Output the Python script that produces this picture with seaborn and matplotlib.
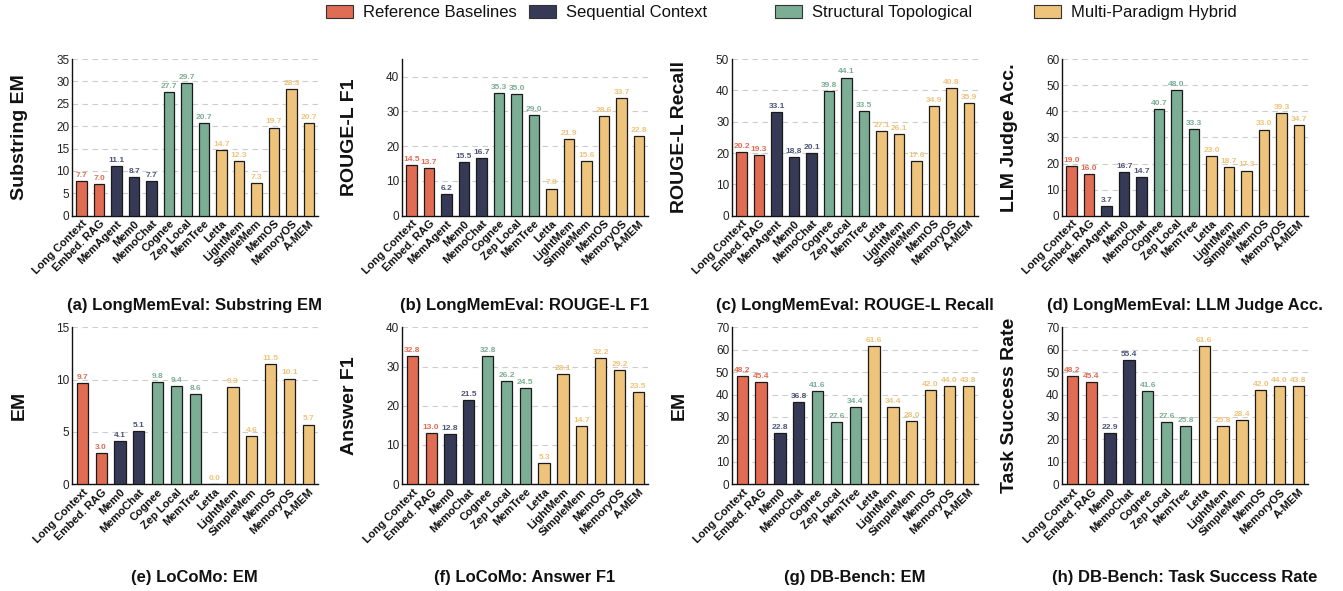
import pandas as pd
import matplotlib
matplotlib.use("Agg")
import matplotlib.pyplot as plt
from matplotlib.patches import Patch
import seaborn as sns

# Method names and their paradigm group
methods_lme = ["Long Context", "Embed. RAG", "MemAgent", "Mem0", "MemoChat", "Cognee", "Zep Local",
               "MemTree", "Letta", "LightMem", "SimpleMem", "MemOS", "MemoryOS", "A-MEM"]
groups_lme = ["Reference Baselines"] * 2 + ["Sequential Context"] * 3 + ["Structural Topological"] * 3 + \
             ["Multi-Paradigm Hybrid"] * 6
methods_other = [m for m in methods_lme if m != "MemAgent"]
groups_other = ["Reference Baselines"] * 2 + ["Sequential Context"] * 2 + ["Structural Topological"] * 3 + \
               ["Multi-Paradigm Hybrid"] * 6

# LongMemEval scores
lme_substring_em = [7.7, 7.0, 11.1, 8.7, 7.7, 27.7, 29.7, 20.7, 14.7, 12.3, 7.3, 19.7, 28.3, 20.7]
lme_rouge_f1 = [14.5, 13.7, 6.2, 15.5, 16.7, 35.3, 35.0, 29.0, 7.8, 21.9, 15.6, 28.6, 33.7, 22.8]
lme_rouge_recall = [20.2, 19.3, 33.1, 18.8, 20.1, 39.8, 44.1, 33.5, 27.1, 26.1, 17.6, 34.9, 40.8, 35.9]
lme_llm_judge = [19.0, 16.0, 3.7, 16.7, 14.7, 40.7, 48.0, 33.3, 23.0, 18.7, 17.3, 33.0, 39.3, 34.7]

# LoCoMo and DB-Bench scores
locomo_em = [9.7, 3.0, 4.1, 5.1, 9.8, 9.4, 8.6, 0.0, 9.3, 4.6, 11.5, 10.1, 5.7]
locomo_f1 = [32.8, 13.0, 12.8, 21.5, 32.8, 26.2, 24.5, 5.3, 28.1, 14.7, 32.2, 29.2, 23.5]
dbbench_em = [48.2, 45.4, 22.8, 36.8, 41.6, 27.6, 34.4, 61.6, 34.4, 28.0, 42.0, 44.0, 43.8]
dbbench_tsr = [48.2, 45.4, 22.9, 55.4, 41.6, 27.6, 25.8, 61.6, 25.8, 28.4, 42.0, 44.0, 43.8]

palette = {"Reference Baselines": "#E06C54", "Sequential Context": "#363A57",
           "Structural Topological": "#7CAE95", "Multi-Paradigm Hybrid": "#EEC47D"}
label_colors = {"Reference Baselines": "#E06C54", "Sequential Context": "#4F5578",
                "Structural Topological": "#7CAE95", "Multi-Paradigm Hybrid": "#EEC47D"}

panels = [
    (lme_substring_em, methods_lme, groups_lme, "Substring EM", "(a) LongMemEval: Substring EM", 35, 5),
    (lme_rouge_f1, methods_lme, groups_lme, "ROUGE-L F1", "(b) LongMemEval: ROUGE-L F1", 45, 10),
    (lme_rouge_recall, methods_lme, groups_lme, "ROUGE-L Recall", "(c) LongMemEval: ROUGE-L Recall", 50, 10),
    (lme_llm_judge, methods_lme, groups_lme, "LLM Judge Acc.", "(d) LongMemEval: LLM Judge Acc.", 60, 10),
    (locomo_em, methods_other, groups_other, "EM", "(e) LoCoMo: EM", 15, 5),
    (locomo_f1, methods_other, groups_other, "Answer F1", "(f) LoCoMo: Answer F1", 40, 10),
    (dbbench_em, methods_other, groups_other, "EM", "(g) DB-Bench: EM", 70, 10),
    (dbbench_tsr, methods_other, groups_other, "Task Success Rate", "(h) DB-Bench: Task Success Rate", 70, 10),
]

sns.set_style("ticks")
plt.rcParams["font.family"] = ["Liberation Sans", "DejaVu Sans"]
plt.rcParams.update({"text.color": "#111111", "axes.labelcolor": "#111111",
                     "xtick.color": "#111111", "ytick.color": "#222222"})

fig = plt.figure(figsize=(13.43, 5.91), dpi=100)
lefts = [0.0536, 0.2993, 0.545, 0.7908]
bottoms = [0.635, 0.181]
w, h = 0.183, 0.265

for k, (vals, names, grps, ylab, title, ymax, step) in enumerate(panels):
    ax = fig.add_axes([lefts[k % 4], bottoms[k // 4], w, h])
    df = pd.DataFrame({"method": names, "score": vals, "group": grps})
    sns.barplot(data=df, x="method", y="score", hue="group", palette=palette, dodge=False,
                saturation=1, width=0.6, edgecolor="#1a1a1a", linewidth=0.9, legend=False,
                ax=ax, zorder=3)
    for i, (v, g) in enumerate(zip(vals, grps)):
        ax.annotate(f"{v:.1f}", (i, v), xytext=(0, 1.5), textcoords="offset points",
                    ha="center", va="bottom", fontsize=6, fontweight="bold", color=label_colors[g])
    ax.set_xlim(-0.55, len(vals) - 0.5)
    ax.set_ylim(0, ymax)
    ax.set_yticks(range(0, ymax + 1, step) if ymax % step == 0 else range(0, ymax, step))
    ax.yaxis.grid(True, linestyle=(0, (5, 4)), color="#cccccc", linewidth=0.8, zorder=0)
    ax.set_axisbelow(True)
    sns.despine(ax=ax)
    for s in ["left", "bottom"]:
        ax.spines[s].set_color("#111111")
        ax.spines[s].set_linewidth(1.0)
    ax.tick_params(axis="both", length=0, pad=2)
    ax.tick_params(axis="y", labelsize=8.5)
    ax.set_xticks(range(len(names)))
    ax.set_xticklabels(names, rotation=45, ha="right", rotation_mode="anchor",
                       fontsize=8, fontweight="bold")
    ax.set_xlabel("")
    ax.set_ylabel(ylab, fontsize=14, fontweight="bold")
    ax.yaxis.label.set_va("center")
    ax.yaxis.set_label_coords(-0.215, 0.5)
    ty = -0.575 if k < 4 else -0.596
    ax.text(0.5, ty, title, transform=ax.transAxes, ha="center", va="center",
            fontsize=12, fontweight="bold")

# Top legend, one entry per paradigm
legend_x = [0.243, 0.394, 0.577, 0.770]
for x, (name, col) in zip(legend_x, palette.items()):
    fig.legend(handles=[Patch(facecolor=col, edgecolor="#333333", linewidth=0.8, label=name)],
               loc="center left", bbox_to_anchor=(x, 0.979), frameon=False, fontsize=12,
               handlelength=1.6, handleheight=0.8, handletextpad=0.6, borderpad=0, borderaxespad=0)

fig.savefig("out.png", dpi=100)
